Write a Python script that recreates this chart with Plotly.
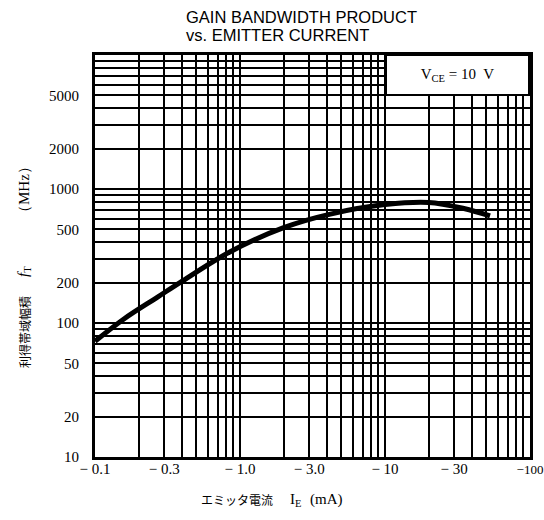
import plotly.graph_objects as go

# Data (emitter current magnitude in mA, fT in MHz)
ie_ma = [0.1, 0.16, 0.27, 0.39, 0.85, 2.0, 4.2, 10.0, 20.0, 35.0, 53.0]
ft_mhz = [73, 108, 156, 202, 339, 515, 650, 765, 794, 715, 630]

x_tick_vals = [0.1, 0.3, 1, 3, 10, 30, 100]
x_tick_text = ["− 0.1", "− 0.3", "− 1.0", "− 3.0", "− 10", "− 30",
               "<span style='font-size:13px'>−100</span>"]
y_tick_vals = [10, 20, 50, 100, 200, 500, 1000, 2000, 5000]
y_tick_text = ["10", "20", "50", "100", "200", "500", "1000", "2000", "5000"]

def grid_values(lo_exp, hi_exp):
    vals = []
    for e in range(lo_exp, hi_exp):
        for m in range(1, 10):
            vals.append(round(m * 10 ** e, 6))
    vals.append(round(10 ** hi_exp, 6))
    return vals

def labels_for(grid, vals, texts):
    out = []
    for g in grid:
        t = ""
        for v, s in zip(vals, texts):
            if abs(g - v) < 1e-9 * max(1, v):
                t = s
        out.append(t)
    return out

xg = grid_values(-1, 2)
yg = grid_values(1, 4)

fig = go.Figure()
fig.add_trace(go.Scatter(
    x=ie_ma, y=ft_mhz, mode="lines",
    line=dict(color="black", width=5, shape="spline", smoothing=1.0),
    showlegend=False, hoverinfo="skip"))

serif = "Liberation Serif"
cjk = "Noto Sans CJK JP"
W, H = 544, 520
L, R, T, B = 95, 14, 55, 63
pw, ph = W - L - R, H - T - B

def px(x):  # page x -> paper
    return (x - L) / pw

def py(y):  # page y -> paper
    return (H - B - y) / ph

fig.update_layout(
    width=W, height=H,
    margin=dict(l=L, r=R, t=T, b=B),
    paper_bgcolor="white", plot_bgcolor="white",
    xaxis=dict(
        type="log", range=[-1, 2], automargin=False,
        tickmode="array", tickvals=xg, ticktext=labels_for(xg, x_tick_vals, x_tick_text),
        showgrid=True, gridcolor="black", gridwidth=2,
        showline=True, linecolor="black", linewidth=3, mirror=True,
        ticks="", ticklabelstandoff=-4, ticklabeloverflow="allow",
        tickfont=dict(family=serif, size=15, color="black"),
        zeroline=False,
    ),
    yaxis=dict(
        type="log", range=[1, 4], automargin=False,
        tickmode="array", tickvals=yg, ticktext=labels_for(yg, y_tick_vals, y_tick_text),
        showgrid=True, gridcolor="black", gridwidth=2,
        showline=True, linecolor="black", linewidth=3, mirror=True,
        ticks="", ticklabelstandoff=10,
        tickfont=dict(family=serif, size=15, color="black"),
        zeroline=False,
    ),
    annotations=[
        dict(text="GAIN BANDWIDTH PRODUCT",
             xref="paper", yref="paper", x=px(184), y=py(17),
             xanchor="left", yanchor="middle", showarrow=False,
             font=dict(family="Liberation Sans", size=16.5, color="black")),
        dict(text="vs. EMITTER CURRENT",
             xref="paper", yref="paper", x=px(184), y=py(35),
             xanchor="left", yanchor="middle", showarrow=False,
             font=dict(family="Liberation Sans", size=16.5, color="black")),
        dict(text="V<sub>CE</sub> = 10  V",
             xref="paper", yref="paper", x=1.0, y=1.0, yshift=1,
             xanchor="right", yanchor="top", showarrow=False,
             width=139, height=36, bgcolor="white", bordercolor="black", borderwidth=2,
             font=dict(family=serif, size=15, color="black")),
        # y-axis title pieces
        dict(text="利得帯域幅積",
             xref="paper", yref="paper", x=px(24), y=py(332),
             xanchor="center", yanchor="middle", textangle=-90, showarrow=False,
             font=dict(family=cjk, size=12, color="black")),
        dict(text="<i>f</i><sub>T</sub>",
             xref="paper", yref="paper", x=px(24), y=py(272),
             xanchor="center", yanchor="middle", textangle=-90, showarrow=False,
             font=dict(family=serif, size=15, color="black")),
        dict(text="（MHz）",
             xref="paper", yref="paper", x=px(24), y=py(190),
             xanchor="center", yanchor="middle", textangle=-90, showarrow=False,
             font=dict(family=serif, size=15, color="black")),
        # x-axis title pieces
        dict(text="エミッタ電流",
             xref="paper", yref="paper", x=px(237), y=py(500),
             xanchor="center", yanchor="middle", showarrow=False,
             font=dict(family=cjk, size=12, color="black")),
        dict(text="I<sub>E</sub>",
             xref="paper", yref="paper", x=px(295), y=py(500),
             xanchor="center", yanchor="middle", showarrow=False,
             font=dict(family=serif, size=15, color="black")),
        dict(text="(mA)",
             xref="paper", yref="paper", x=px(326), y=py(500),
             xanchor="center", yanchor="middle", showarrow=False,
             font=dict(family=serif, size=15, color="black")),
    ],
)

fig.write_html("out.html", config={"displayModeBar": False},
               post_script="document.body.style.margin='0px';")
